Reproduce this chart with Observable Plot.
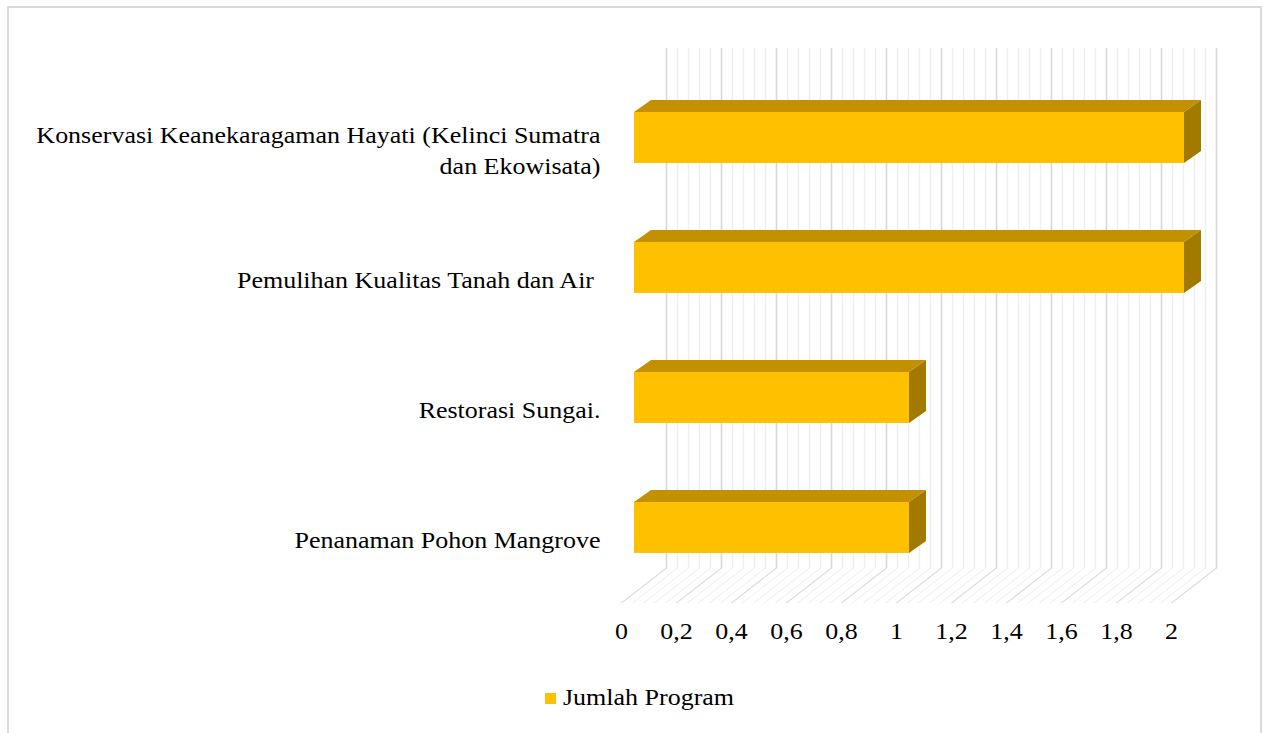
<!DOCTYPE html>
<html>
<head>
<meta charset="utf-8">
<script src="https://cdn.jsdelivr.net/npm/d3@7"></script>
<script src="https://cdn.jsdelivr.net/npm/@observablehq/plot@0.6"></script>
<style>
  html, body { margin: 0; padding: 0; overflow: hidden; background: #fff; width: 1263px; height: 733px; }
  #frame { position: absolute; left: 7px; top: 6px; width: 1255px; height: 760px; box-sizing: border-box; border: 2px solid #d9d9d9; }
  #chart { position: absolute; left: 0; top: 0; width: 1263px; }
  svg text { white-space: pre; }
  g[aria-description="top-face"] rect { transform-box: fill-box; transform-origin: bottom; transform: skewX(-54.8deg); }
  g[aria-description="side-face"] rect { transform-box: fill-box; transform-origin: left; transform: skewY(-35.2deg); }
  g[aria-description="floor-minor"] line, g[aria-description="floor-major"] line { transform-box: fill-box; transform-origin: bottom; transform: skewX(-52.1deg); }
  #legend { display: flex; align-items: center; margin-left: 545px; margin-top: 26px; height: 24px; }
  #legend .sw { width: 11px; height: 11px; background: #FFC000; margin-right: 7px; flex: none; }
  #legend .lt { font-family: "Liberation Serif", serif; font-size: 23px; color: #000; transform: scaleX(1.13); transform-origin: left center; white-space: pre; }
</style>
</head>
<body>
<div id="frame"></div>
<div id="chart"></div>
<script>
// ---- data ----
const categories = [
  "Konservasi Keanekaragaman Hayati (Kelinci Sumatra\ndan Ekowisata)",
  "Pemulihan Kualitas Tanah dan Air ",
  "Restorasi Sungai.",
  "Penanaman Pohon Mangrove"
];
const values = [2, 2, 1, 1];
const seriesName = "Jumlah Program";
const tickValues = [0, 0.2, 0.4, 0.6, 0.8, 1, 1.2, 1.4, 1.6, 1.8, 2];
const tickLabels = ["0", "0,2", "0,4", "0,6", "0,8", "1", "1,2", "1,4", "1,6", "1,8", "2"];

// ---- styling / layout ----
const W = 1263, H = 660;
const mTop = 48, mBottom = 57, mLeft = 621, mRight = W - 1171;
const pInner = 0.6077, pOuter = 0.4385, yAlign = 0.561;
const frameH = H - mTop - mBottom;
const step = frameH / (categories.length - pInner + 2 * pOuter);
const bw = step * (1 - pInner);
const barDx = 13, depthX = 17, depthY = 12;
const wallDx = 45, floorDepth = 35;
const stretchK = 1.13;
const colFront = "#FFC000", colTop = "#C39000", colSide = "#A37A00";
const gridMajor = "#d9d9d9", gridMinor = "#efefef";

const data = categories.map((c, i) => ({cat: c, value: values[i]}));
const minorTicks = d3.range(0, 2 + 1e-9, 0.04).map(v => +v.toFixed(2));

const plot = Plot.plot({
  width: W, height: H,
  marginTop: mTop, marginBottom: mBottom, marginLeft: mLeft, marginRight: mRight,
  x: {domain: [0, 2], axis: null},
  y: {domain: categories, axis: null, paddingInner: pInner, paddingOuter: pOuter, align: yAlign, round: false},
  style: {background: "transparent", fontFamily: "Liberation Serif, serif", fontSize: "23px", color: "#000", overflow: "visible"},
  marks: [
    // back wall gridlines
    Plot.ruleX(minorTicks, {x: d => d, dx: wallDx, insetBottom: floorDepth, stroke: gridMinor, strokeWidth: 1.5, ariaDescription: "wall-minor"}),
    Plot.ruleX(tickValues, {x: d => d, dx: wallDx, insetBottom: floorDepth, stroke: gridMajor, strokeWidth: 1.5, ariaDescription: "wall-major"}),
    // floor gridlines
    Plot.ruleX(minorTicks, {x: d => d, insetTop: frameH - floorDepth, stroke: gridMinor, strokeWidth: 1.5, ariaDescription: "floor-minor"}),
    Plot.ruleX(tickValues, {x: d => d, insetTop: frameH - floorDepth, stroke: gridMajor, strokeWidth: 1.5, ariaDescription: "floor-major"}),
    // 3D bars
    Plot.barX(data, {x: "value", y: "cat", dx: barDx, dy: -depthY, insetBottom: bw - depthY, fill: colTop, ariaDescription: "top-face"}),
    Plot.barX(data, {x1: "value", x2: "value", y: "cat", dx: barDx, insetRight: -depthX, fill: colSide, ariaDescription: "side-face"}),
    Plot.barX(data, {x: "value", y: "cat", dx: barDx, fill: colFront, ariaDescription: "front-face"}),
    // category labels
    Plot.text(categories, {y: d => d, text: d => d, frameAnchor: "left", dx: -21, dy: 10.5, textAnchor: "end", lineHeight: 1.35, fontSize: 23, fill: "#000", ariaDescription: "ylabels"}),
    // value axis labels
    Plot.text(tickValues, {x: d => d, text: (d, i) => tickLabels[i], frameAnchor: "bottom", dy: 35, fontSize: 23, fill: "#000", ariaDescription: "xlabels"})
  ]
});

function stretch(svg, desc, k) {
  svg.querySelectorAll(`g[aria-description="${desc}"] text`).forEach(t => {
    const tr = t.getAttribute("transform");
    if (tr) t.setAttribute("transform", tr + ` scale(${k},1)`);
    else {
      const x = +t.getAttribute("x") || 0;
      t.setAttribute("transform", `translate(${x},0) scale(${k},1) translate(${-x},0)`);
    }
  });
}
stretch(plot, "ylabels", stretchK);
stretch(plot, "xlabels", stretchK);

const chart = document.getElementById("chart");
chart.appendChild(plot);

const legend = document.createElement("div");
legend.id = "legend";
legend.innerHTML = `<span class="sw"></span><span class="lt"></span>`;
legend.querySelector(".lt").textContent = seriesName;
chart.appendChild(legend);
</script>
</body>
</html>
